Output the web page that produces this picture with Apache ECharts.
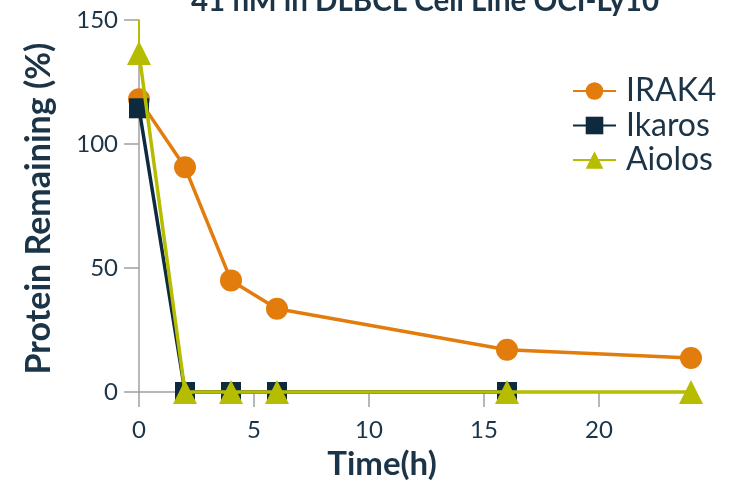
<!DOCTYPE html>
<html><head><meta charset="utf-8">
<script src="https://cdn.jsdelivr.net/npm/echarts@6/dist/echarts.min.js"></script>
<style>html,body{margin:0;padding:0;background:#fff}#c{width:738px;height:482px}</style>
</head><body><div id="c"></div>
<script>
var timeIrak4 = [0, 2, 4, 6, 16, 24];
var irak4 = [118, 90.6, 45, 33.6, 17, 13.7];
var timeIkaros = [0, 2, 4, 6, 16];
var ikaros = [114.4, 0, 0, 0, 0];
var timeAiolos = [0, 2, 4, 6, 16, 24];
var aiolos = [136.7, 0, 0, 0, 0, 0];
var aiolosErr = [[0, 136.7, 150]];
var xTicks = [0, 5, 10, 15, 20];
var yTicks = [0, 50, 100, 150];
var title = '41 nM in DLBCL Cell Line OCI-Ly10';

function pairs(xs, ys){ return xs.map(function(x,i){return [x, ys[i]];}); }
var txt = '#1b3447';
var axisCol = '#a0a0a0';
var chart = echarts.init(document.getElementById('c'));
chart.setOption({
  animation: false,
  textStyle: {fontFamily: 'Lato'},
  title: {text: title, left: 420, top: -19, textAlign: 'center',
    textStyle: {fontFamily: 'Lato', fontWeight: 'bold', fontSize: 29.5, color: txt}},
  grid: {left: 139, right: 47, top: 20, bottom: 90, outerBoundsMode: 'none', containLabel: false},
  legend: {orient: 'vertical', left: 567, top: 70, itemWidth: 43, itemHeight: 22, itemGap: 2.5,
    data: ['IRAK4', 'Ikaros', 'Aiolos'],
    textStyle: {fontFamily: 'Lato', fontSize: 32, lineHeight: 32, color: txt, padding: [0,0,0,5]}},
  xAxis: {type: 'value', min: 0, max: 24,
    name: 'Time(h)', nameLocation: 'middle', nameGap: 56,
    nameTextStyle: {fontFamily: 'Lato', fontWeight: 'bold', fontSize: 33, color: txt, padding:[0,0,0,-66]},
    axisLine: {show: true, lineStyle: {color: axisCol, width: 1.5}},
    axisTick: {show: true, length: 15, customValues: xTicks, lineStyle: {color: axisCol, width: 1.5}},
    axisLabel: {customValues: xTicks, margin: 26, fontSize: 24, color: txt, fontFamily: 'Lato'},
    splitLine: {show: false}},
  yAxis: {type: 'value', min: 0, max: 150,
    name: 'Protein Remaining (%)', nameLocation: 'middle', nameGap: 83,
    nameTextStyle: {fontFamily: 'Lato', fontWeight: 'bold', fontSize: 34, color: txt, padding:[0,0,0,-5]},
    axisLine: {show: true, lineStyle: {color: axisCol, width: 1.5}},
    axisTick: {show: true, length: 15, customValues: yTicks, lineStyle: {color: axisCol, width: 1.5}},
    axisLabel: {customValues: yTicks, margin: 21, fontSize: 24, color: txt, fontFamily: 'Lato'},
    splitLine: {show: false}},
  series: [
    {name: 'IRAK4', type: 'line', data: pairs(timeIrak4, irak4), symbol: 'circle', symbolSize: 22,
      clip: false, z: 2,
      itemStyle: {color: '#e27c0c'}, lineStyle: {color: '#e27c0c', width: 3.5}},
    {name: 'Ikaros', type: 'line', data: pairs(timeIkaros, ikaros), symbol: 'rect', symbolSize: 20,
      clip: false, z: 3,
      itemStyle: {color: '#0e2a3e'}, lineStyle: {color: '#0e2a3e', width: 3.5}},
    {name: 'Aiolos', type: 'line', data: pairs(timeAiolos, aiolos), symbol: 'triangle', symbolSize: 24,
      clip: false, z: 4,
      itemStyle: {color: '#b6bd00'}, lineStyle: {color: '#b6bd00', width: 3.5}},
    {name: 'AiolosErr', type: 'custom', data: aiolosErr, z: 4, silent: true,
      renderItem: function(params, api){
        var p1 = api.coord([api.value(0), api.value(1)]);
        var p2 = api.coord([api.value(0), api.value(2)]);
        return {type: 'line', shape: {x1: p1[0], y1: p1[1], x2: p2[0], y2: p2[1]},
          style: {stroke: '#b6bd00', lineWidth: 2}};
      }}
  ]
});
</script></body></html>
